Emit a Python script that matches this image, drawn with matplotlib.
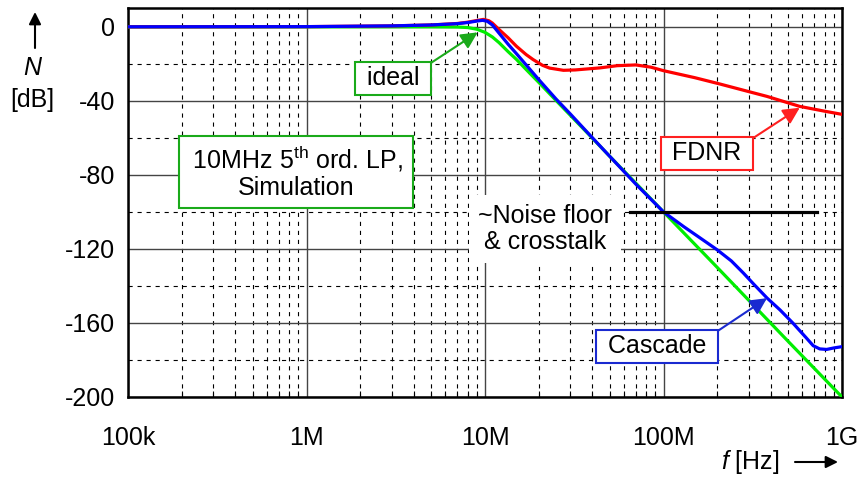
import matplotlib
matplotlib.use('Agg')
import matplotlib.pyplot as plt
from matplotlib.ticker import FixedLocator, NullFormatter

plt.rcParams['font.family'] = ['Liberation Sans', 'DejaVu Sans']
plt.rcParams['mathtext.fontset'] = 'custom'
plt.rcParams['mathtext.rm'] = 'Liberation Sans'
plt.rcParams['mathtext.it'] = 'Liberation Sans:italic'
plt.rcParams['lines.scale_dashes'] = False

# ideal 5th order low pass (green)
f_ideal = [1e5, 1e6, 5e6, 7e6, 8e6, 9e6, 1e7, 1.1e7, 1.2e7, 1.35e7, 1.5e7, 1.75e7,
           2e7, 2.5e7, 3e7, 4e7, 5e7, 7e7, 1e8, 2e8, 5e8, 1e9]
n_ideal = [0, 0, 0, -0.1, -0.4, -1.3, -3.0, -5.5, -8.6, -13.5, -17.6, -24.3,
           -30, -39.8, -47.7, -60.2, -70, -84.5, -100, -130, -170, -200]

# FDNR realisation (red)
f_fdnr = [1e5, 1e6, 3e6, 5e6, 7e6, 8e6, 9e6, 9.8e6, 1.05e7, 1.1e7, 1.2e7, 1.35e7,
          1.5e7, 1.7e7, 1.86e7, 2.1e7, 2.3e7, 2.75e7, 3.2e7, 4.4e7, 5.5e7, 7e7,
          8.5e7, 1e8, 1.5e8, 2.07e8, 3e8, 3.8e8, 5.8e8, 8e8, 1e9]
n_fdnr = [0, 0.1, 0.5, 1.0, 1.8, 2.5, 3.4, 4.0, 3.3, 2.0, -1.5, -6,
          -10.5, -15, -17.7, -20.8, -22.3, -23.5, -23.3, -22.2, -21, -20.6,
          -21.8, -23.7, -27.5, -30.9, -35, -37.6, -43, -45.6, -47.3]

# cascade realisation (blue)
f_casc = [1e5, 1e6, 3e6, 5e6, 7e6, 8e6, 9e6, 9.7e6, 1.03e7, 1.1e7, 1.2e7, 1.35e7,
          1.5e7, 1.75e7, 2e7, 2.5e7, 3e7, 4e7, 5e7, 7e7, 1e8, 1.3e8, 1.6e8, 2e8,
          2.4e8, 2.8e8, 3.2e8, 3.8e8, 4.5e8, 5.3e8, 6.3e8, 6.9e8, 7.5e8, 8.2e8, 9e8, 1e9]
n_casc = [0, 0.1, 0.5, 1.0, 1.7, 2.3, 3.1, 3.5, 3.0, 1.0, -3.5, -9.5,
          -14.5, -22, -28.5, -39, -47, -60, -70, -85, -100, -108, -114, -120.5,
          -126.5, -133, -139, -146.5, -153, -160, -168, -172.3, -174, -174.3, -173.5, -172.8]

# noise floor marker
noise_f = [6.5e7, 7.2e8]
noise_level = [-100, -100]

x_ticks = [1e5, 1e6, 1e7, 1e8, 1e9]
x_labels = ['100k', '1M', '10M', '100M', '1G']
y_ticks = [0, -40, -80, -120, -160, -200]

fig = plt.figure(figsize=(8.61, 4.82), dpi=100)
ax = fig.add_axes([128 / 861, 1 - 397 / 482, (842 - 128) / 861, (397 - 8.3) / 482])

ax.plot(f_ideal, n_ideal, color='#00ee00', lw=2.3, zorder=3)
ax.plot(f_fdnr, n_fdnr, color='#ff0000', lw=2.3, zorder=4)
ax.plot(f_casc, n_casc, color='#0000ff', lw=2.3, zorder=5)
ax.plot(noise_f, noise_level, color='black', lw=2.3, zorder=5)

ax.set_xscale('log')
ax.set_xlim(1e5, 1e9)
ax.set_ylim(-200, 10)

ax.xaxis.set_major_locator(FixedLocator(x_ticks))
ax.set_xticklabels(x_labels)
minor_x = [m * d for d in [1e5, 1e6, 1e7, 1e8] for m in range(2, 10)]
ax.xaxis.set_minor_locator(FixedLocator(minor_x))
ax.xaxis.set_minor_formatter(NullFormatter())
ax.set_yticks(y_ticks)
ax.set_yticklabels([str(v) for v in y_ticks])
ax.yaxis.set_minor_locator(FixedLocator([-20, -60, -100, -140, -180]))

ax.grid(which='major', color='#444444', lw=1.0, ls='-')
ax.grid(which='minor', color='black', lw=0.8, dashes=(3, 3.5))
ax.tick_params(axis='both', which='major', length=0, labelsize=18)
ax.tick_params(axis='y', which='major', pad=9)
ax.tick_params(axis='x', which='major', pad=21)
ax.tick_params(axis='x', which='minor', direction='in', length=4, width=0.8)
ax.tick_params(axis='y', which='minor', length=0)
for s in ax.spines.values():
    s.set_linewidth(1.8)

# axis labels with arrows
fig.text(32, 414, 'N', transform=None, fontsize=18, style='italic', ha='center', va='center')
fig.text(32, 382, '[dB]', transform=None, fontsize=18, ha='center', va='center')
ax.annotate('', xy=(35, 470), xycoords='figure pixels', xytext=(35, 434), textcoords='figure pixels',
            arrowprops=dict(arrowstyle='-|>', color='black', lw=1.5, mutation_scale=18,
                            shrinkA=0, shrinkB=0))
fig.text(750, 20, r'$f$ [Hz]', transform=None, fontsize=18, ha='center', va='center')
ax.annotate('', xy=(838, 20), xycoords='figure pixels', xytext=(795, 20), textcoords='figure pixels',
            arrowprops=dict(arrowstyle='-|>', color='black', lw=1.5, mutation_scale=18,
                            shrinkA=0, shrinkB=0))

# callouts
def callout(label, tip, pos, col):
    ax.annotate(label, xy=tip, xycoords='data', xytext=pos, textcoords='figure pixels',
                fontsize=18, ha='center', va='center', zorder=10,
                bbox=dict(boxstyle='square,pad=0.18', fc='white', ec=col, lw=1.5),
                arrowprops=dict(arrowstyle='-|>', color=col, lw=1.5, mutation_scale=25,
                                relpos=(1, 1), shrinkA=0, shrinkB=0))

callout(' ideal ', (9.1e6, -3), (393, 404), '#1aaa1a')
callout(' FDNR ', (5.8e8, -43.7), (707, 329), '#ff2020')
callout(' Cascade ', (3.8e8, -146.6), (657, 136), '#1a2ad0')

fig.text(296, 310, ' 10MHz 5$^{\\mathrm{th}}$ ord. LP, \nSimulation', transform=None,
         fontsize=18, ha='center', va='center', linespacing=1.1, zorder=10,
         bbox=dict(boxstyle='square,pad=0.3', fc='white', ec='#1aaa1a', lw=1.5))
fig.text(545, 253, '~Noise floor\n& crosstalk', transform=None,
         fontsize=18, ha='center', va='center', linespacing=1.1, zorder=10,
         bbox=dict(boxstyle='square,pad=0.35', fc='white', ec='none'))

fig.savefig('out.png', dpi=100)
